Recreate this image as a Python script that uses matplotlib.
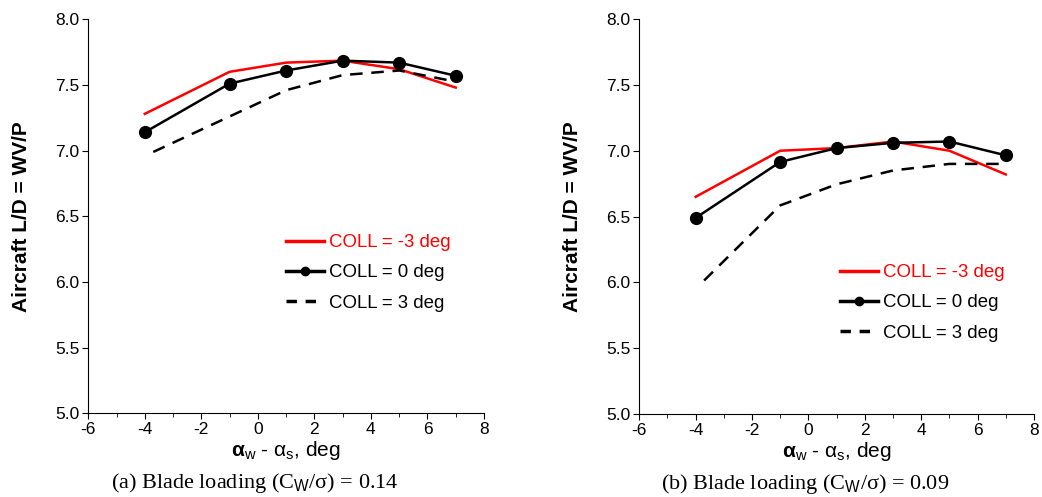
import numpy as np
import matplotlib
matplotlib.use('Agg')
import matplotlib.pyplot as plt
from matplotlib.lines import Line2D
from matplotlib.ticker import MultipleLocator, FormatStrFormatter

plt.rcParams['font.family'] = ['Liberation Sans', 'DejaVu Sans']
plt.rcParams['axes.unicode_minus'] = False
plt.rcParams['mathtext.fontset'] = 'custom'
plt.rcParams['mathtext.rm'] = 'Liberation Sans'
plt.rcParams['mathtext.it'] = 'Liberation Sans'
plt.rcParams['mathtext.bf'] = 'Liberation Sans:bold'

# date
x_pts = [-4, -1, 1, 3, 5, 7]
x_dash = [-3.7, -1, 1, 3, 5, 7]

# (a) C_W/sigma = 0.14
a_m3 = [7.28, 7.60, 7.67, 7.685, 7.62, 7.48]
a_0 = [7.14, 7.51, 7.61, 7.685, 7.67, 7.57]
a_p3 = [6.99, 7.26, 7.46, 7.575, 7.61, 7.525]

# (b) C_W/sigma = 0.09
b_m3 = [6.65, 7.00, 7.02, 7.07, 7.00, 6.82]
b_0 = [6.49, 6.915, 7.02, 7.06, 7.07, 6.965]
b_p3 = [6.015, 6.585, 6.745, 6.85, 6.90, 6.90]

labels = ['COLL = -3 deg', 'COLL = 0 deg', 'COLL = 3 deg']
captions = ['(a) Blade loading (C$_{\\mathrm{W}}$/\u03c3) = 0.14',
            '(b) Blade loading (C$_{\\mathrm{W}}$/\u03c3) = 0.09']

fig = plt.figure(figsize=(10.42, 4.97), dpi=100)
ax1 = fig.add_axes([0.0847, 0.1684, 0.3798, 0.7928])
ax2 = fig.add_axes([0.6135, 0.1666, 0.3788, 0.7952])

seturi = [(ax1, a_m3, a_0, a_p3, (0.50, 0.455)),
          (ax2, b_m3, b_0, b_p3, (0.508, 0.38))]

for k, (ax, m3, z0, p3, leg_pos) in enumerate(seturi):
    ax.plot(x_pts, m3, '-', color='red', lw=1.8)
    ax.plot(x_pts, z0, '-o', color='black', lw=1.8, markersize=8.5)
    ax.plot(x_dash, p3, '--', color='black', lw=1.8, dashes=(5, 3.5))

    ax.set_xlim(-6, 8)
    ax.set_ylim(5.0, 8.0)
    ax.xaxis.set_major_locator(MultipleLocator(2))
    ax.xaxis.set_minor_locator(MultipleLocator(1))
    ax.yaxis.set_major_locator(MultipleLocator(0.5))
    ax.yaxis.set_major_formatter(FormatStrFormatter('%.1f'))
    ax.spines['top'].set_visible(False)
    ax.spines['right'].set_visible(False)
    ax.tick_params(which='major', direction='out', length=4, labelsize=12.5, pad=2.5)
    ax.tick_params(which='minor', direction='out', length=3)

    ax.set_ylabel('Aircraft L/D = WV/P', fontsize=15, fontweight='bold')
    ax.yaxis.set_label_coords(-0.145, 0.5)
    ax.set_xlabel(r'$\mathbf{\alpha}_{\mathrm{w}}$ - $\alpha_{\mathrm{s}}$, deg', fontsize=15)
    ax.xaxis.set_label_coords(0.5, -0.065)
    ax.text(0.42, -0.176, captions[k], transform=ax.transAxes, ha='center', va='center',
            fontsize=16, family=['Liberation Serif', 'DejaVu Serif'])

    handles = [Line2D([], [], color='red', lw=2.5),
               Line2D([], [], color='black', lw=2.5, marker='o', markersize=6),
               Line2D([], [], color='black', lw=2.5, ls='--', dashes=(3, 2.5))]
    leg = ax.legend(handles, labels, loc='upper left', bbox_to_anchor=leg_pos,
                    frameon=False, fontsize=13.4, handlelength=2.05, handletextpad=0.25,
                    labelspacing=0.71, borderpad=0, borderaxespad=0)
    leg.get_texts()[0].set_color('red')

fig.savefig('out.png', dpi=100)
